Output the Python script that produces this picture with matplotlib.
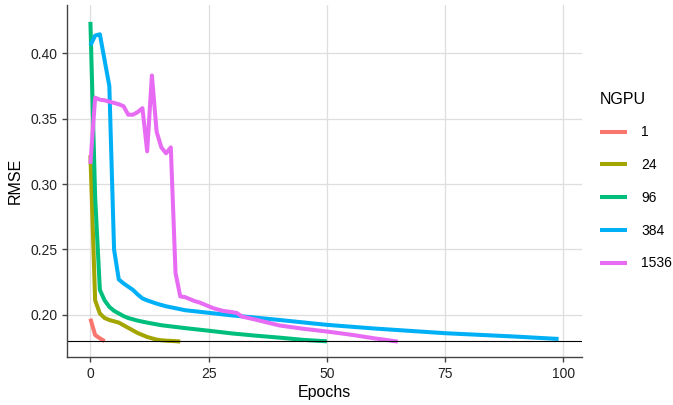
import matplotlib
matplotlib.use("Agg")
import matplotlib.pyplot as plt

plt.rcParams['font.family'] = ['Liberation Sans', 'DejaVu Sans']

groups = ["1", "24", "96", "384", "1536"]
colors = ["#F8766D", "#A3A500", "#00BF7D", "#00B0F6", "#E76BF3"]

ep_1 = [0, 1, 2, 3]
rmse_1 = [0.197, 0.1845, 0.182, 0.1798]

ep_24 = [0, 1, 2, 3, 4, 5, 6, 7, 8, 9, 10, 11, 12, 13, 14, 15, 16, 17, 18, 19]
rmse_24 = [0.322, 0.211, 0.201, 0.1975, 0.196, 0.195, 0.194, 0.192, 0.190, 0.188,
           0.186, 0.1845, 0.183, 0.182, 0.181, 0.1805, 0.1802, 0.180, 0.1798, 0.1795]

ep_96 = [0, 1, 2, 3, 4, 5, 6, 7, 8, 10, 12, 15, 20, 25, 30, 35, 40, 45, 50]
rmse_96 = [0.424, 0.290, 0.219, 0.211, 0.206, 0.203, 0.201, 0.199, 0.1975, 0.1955,
           0.194, 0.192, 0.1898, 0.1878, 0.1857, 0.184, 0.1825, 0.1808, 0.1797]

ep_384 = [0, 1, 2, 4, 5, 6, 7, 8, 9, 10, 11, 12, 14, 16, 18, 20, 25, 30, 35, 40,
          50, 60, 75, 90, 99]
rmse_384 = [0.406, 0.4135, 0.4145, 0.375, 0.250, 0.227, 0.224, 0.2215, 0.219, 0.2155,
            0.2125, 0.211, 0.2085, 0.2065, 0.205, 0.2035, 0.2015, 0.1995, 0.1978, 0.196,
            0.1923, 0.1895, 0.1859, 0.1833, 0.1815]

ep_1536 = [0, 1, 2, 3, 4, 5, 6, 7, 8, 9, 10, 11, 12, 13, 14, 15, 16, 17, 18, 19,
           20, 21, 22, 23, 24, 25, 26, 27, 28, 29, 30, 31, 32, 35, 40, 45, 50, 55, 60, 65]
rmse_1536 = [0.3154, 0.366, 0.3645, 0.364, 0.363, 0.362, 0.361, 0.3595, 0.353, 0.353,
             0.355, 0.358, 0.325, 0.383, 0.340, 0.328, 0.3235, 0.328, 0.232, 0.214,
             0.2135, 0.212, 0.2105, 0.2095, 0.208, 0.2065, 0.205, 0.204, 0.203, 0.2025,
             0.202, 0.2013, 0.1987, 0.1962, 0.1918, 0.1893, 0.1872, 0.1848, 0.182, 0.1795]

hline_y = 0.18

xticks = [0, 25, 50, 75, 100]
yticks = [0.20, 0.25, 0.30, 0.35, 0.40]
ytick_labels = ["0.20", "0.25", "0.30", "0.35", "0.40"]

series = [(ep_1, rmse_1), (ep_24, rmse_24), (ep_96, rmse_96),
          (ep_384, rmse_384), (ep_1536, rmse_1536)]

fig = plt.figure(figsize=(6.73, 4.05), dpi=100)
ax = fig.add_axes([67 / 673, 1 - 357 / 405, (582 - 67) / 673, (357 - 5) / 405])

for (x, y), g, c in zip(series, groups, colors):
    ax.plot(x, y, color=c, lw=2.9, label=g, solid_capstyle='butt', solid_joinstyle='round')

ax.axhline(hline_y, color='black', lw=0.8)

ax.set_xlim(-4.95, 103.95)
ax.set_ylim(0.1677, 0.4369)
ax.set_xticks(xticks)
ax.set_yticks(yticks)
ax.set_yticklabels(ytick_labels)
ax.grid(True, color='#dedede', lw=0.9)
ax.set_axisbelow(True)

for s in ['top', 'right']:
    ax.spines[s].set_visible(False)
for s in ['left', 'bottom']:
    ax.spines[s].set_color('#444444')
    ax.spines[s].set_linewidth(1.0)
ax.tick_params(axis='both', colors='#444444', length=3.5, width=1.0, labelsize=10,
               labelcolor='#222222')

ax.set_xlabel("Epochs", fontsize=11.5, labelpad=3)
ax.set_ylabel("RMSE", fontsize=11.5, labelpad=5)

leg = ax.legend(title="NGPU", loc='center left', bbox_to_anchor=(1.01, 0.5),
                frameon=False, fontsize=10, title_fontsize=11.5, handlelength=2.0,
                labelspacing=1.35, alignment='left', handletextpad=1.0)

fig.savefig("out.png", dpi=100)
